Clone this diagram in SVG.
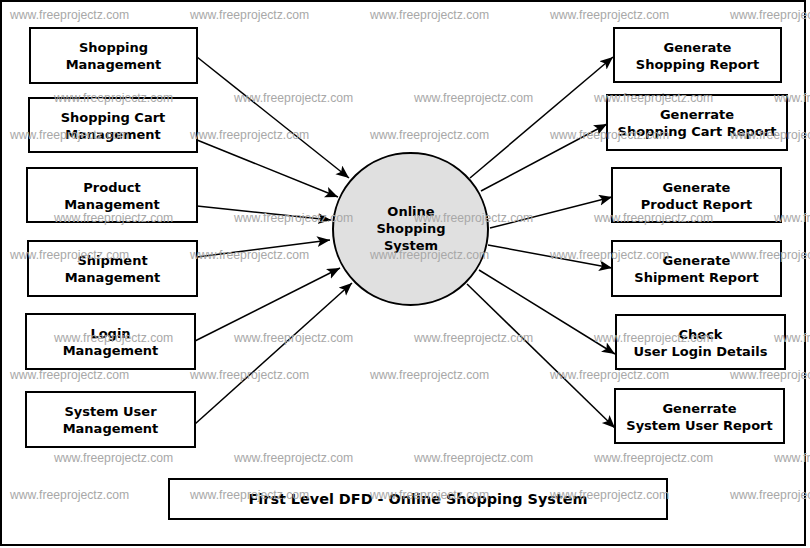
<svg xmlns="http://www.w3.org/2000/svg" width="810" height="548" viewBox="0 0 810 548">
<style>
.box{fill:#fff;stroke:#000;stroke-width:2}
.lbl{font-family:"DejaVu Sans",sans-serif;font-weight:bold;font-size:13px;fill:#000;text-anchor:middle}
.ttl{font-size:14.4px}
.wm{font-family:"Liberation Sans",Arial,sans-serif;font-size:12.2px;fill:#a8a8a8}
.con{stroke:#000;stroke-width:1.5;fill:none;marker-end:url(#arr)}
</style>
<defs>
<marker id="arr" markerUnits="userSpaceOnUse" markerWidth="14" markerHeight="12" refX="13" refY="5.5" orient="auto">
<path d="M0,0 L13,5.5 L0,11 L3,5.5 z" fill="#000"/>
</marker>
</defs>
<rect x="0" y="0" width="810" height="548" fill="#fff"/>
<rect x="1" y="1" width="804" height="544" fill="none" stroke="#000" stroke-width="2"/>

<g id="connectors">
<line class="con" x1="197" y1="57" x2="349" y2="178"/>
<line class="con" x1="197" y1="140" x2="338" y2="197"/>
<line class="con" x1="197" y1="206" x2="331" y2="220"/>
<line class="con" x1="197" y1="257" x2="330" y2="240"/>
<line class="con" x1="195" y1="341" x2="340" y2="268"/>
<line class="con" x1="195" y1="424" x2="352" y2="283"/>
<line class="con" x1="470" y1="178" x2="613" y2="57"/>
<line class="con" x1="481" y1="191" x2="607" y2="124"/>
<line class="con" x1="490" y1="228" x2="612" y2="197"/>
<line class="con" x1="488" y1="245" x2="612" y2="268"/>
<line class="con" x1="479" y1="270" x2="615" y2="354"/>
<line class="con" x1="467" y1="284" x2="615" y2="428"/>
</g>

<g id="center">
<ellipse cx="410.5" cy="229" rx="77.5" ry="76" fill="#e0e0e0" stroke="#000" stroke-width="2"/>
<text class="lbl" x="411" y="216">Online</text>
<text class="lbl" x="411" y="233">Shopping</text>
<text class="lbl" x="411" y="250">System</text>
</g>

<g id="shopping-management">
<rect class="box" x="30" y="28" width="167" height="55"/>
<text class="lbl" x="113.5" y="52">Shopping</text>
<text class="lbl" x="113.5" y="69">Management</text>
</g>
<g id="shopping-cart-management">
<rect class="box" x="29" y="98" width="168" height="54"/>
<text class="lbl" x="113" y="121.5">Shopping Cart</text>
<text class="lbl" x="113" y="138.5">Management</text>
</g>
<g id="product-management">
<rect class="box" x="27" y="168" width="170" height="54"/>
<text class="lbl" x="112" y="191.5">Product</text>
<text class="lbl" x="112" y="208.5">Management</text>
</g>
<g id="shipment-management">
<rect class="box" x="28" y="241" width="169" height="55"/>
<text class="lbl" x="112.5" y="265">Shipment</text>
<text class="lbl" x="112.5" y="282">Management</text>
</g>
<g id="login-management">
<rect class="box" x="26" y="314" width="169" height="55"/>
<text class="lbl" x="110.5" y="338">Login</text>
<text class="lbl" x="110.5" y="355">Management</text>
</g>
<g id="system-user-management">
<rect class="box" x="26" y="392" width="169" height="55"/>
<text class="lbl" x="110.5" y="416">System User</text>
<text class="lbl" x="110.5" y="433">Management</text>
</g>

<g id="shopping-report">
<rect class="box" x="614" y="28" width="167" height="54"/>
<text class="lbl" x="697.5" y="51.5">Generate</text>
<text class="lbl" x="697.5" y="68.5">Shopping Report</text>
</g>
<g id="shopping-cart-report">
<rect class="box" x="607" y="95" width="180" height="55"/>
<text class="lbl" x="697" y="119">Generrate</text>
<text class="lbl" x="697" y="136">Shopping Cart Report</text>
</g>
<g id="product-report">
<rect class="box" x="612" y="168" width="169" height="54"/>
<text class="lbl" x="696.5" y="191.5">Generate</text>
<text class="lbl" x="696.5" y="208.5">Product Report</text>
</g>
<g id="shipment-report">
<rect class="box" x="612" y="241" width="169" height="55"/>
<text class="lbl" x="696.5" y="265">Generate</text>
<text class="lbl" x="696.5" y="282">Shipment Report</text>
</g>
<g id="user-login-details">
<rect class="box" x="616" y="315" width="169" height="54"/>
<text class="lbl" x="700.5" y="338.5">Check</text>
<text class="lbl" x="700.5" y="355.5">User Login Details</text>
</g>
<g id="system-user-report">
<rect class="box" x="615" y="389" width="169" height="54"/>
<text class="lbl" x="699.5" y="412.5">Generrate</text>
<text class="lbl" x="699.5" y="429.5">System User Report</text>
</g>

<g id="title">
<rect class="box" x="169" y="479" width="498" height="40"/>
<text class="lbl ttl" x="418" y="504">First Level DFD - Online Shopping System</text>
</g>

<g id="watermarks">
<text class="wm" x="10" y="19">www.freeprojectz.com</text>
<text class="wm" x="190" y="19">www.freeprojectz.com</text>
<text class="wm" x="370" y="19">www.freeprojectz.com</text>
<text class="wm" x="550" y="19">www.freeprojectz.com</text>
<text class="wm" x="730" y="19">www.freeprojectz.com</text>
<text class="wm" x="54" y="102">www.freeprojectz.com</text>
<text class="wm" x="234" y="102">www.freeprojectz.com</text>
<text class="wm" x="414" y="102">www.freeprojectz.com</text>
<text class="wm" x="594" y="102">www.freeprojectz.com</text>
<text class="wm" x="774" y="102">www.freeprojectz.com</text>
<text class="wm" x="10" y="139">www.freeprojectz.com</text>
<text class="wm" x="190" y="139">www.freeprojectz.com</text>
<text class="wm" x="370" y="139">www.freeprojectz.com</text>
<text class="wm" x="550" y="139">www.freeprojectz.com</text>
<text class="wm" x="730" y="139">www.freeprojectz.com</text>
<text class="wm" x="54" y="222">www.freeprojectz.com</text>
<text class="wm" x="234" y="222">www.freeprojectz.com</text>
<text class="wm" x="414" y="222">www.freeprojectz.com</text>
<text class="wm" x="594" y="222">www.freeprojectz.com</text>
<text class="wm" x="774" y="222">www.freeprojectz.com</text>
<text class="wm" x="10" y="259">www.freeprojectz.com</text>
<text class="wm" x="190" y="259">www.freeprojectz.com</text>
<text class="wm" x="370" y="259">www.freeprojectz.com</text>
<text class="wm" x="550" y="259">www.freeprojectz.com</text>
<text class="wm" x="730" y="259">www.freeprojectz.com</text>
<text class="wm" x="54" y="342">www.freeprojectz.com</text>
<text class="wm" x="234" y="342">www.freeprojectz.com</text>
<text class="wm" x="414" y="342">www.freeprojectz.com</text>
<text class="wm" x="594" y="342">www.freeprojectz.com</text>
<text class="wm" x="774" y="342">www.freeprojectz.com</text>
<text class="wm" x="10" y="379">www.freeprojectz.com</text>
<text class="wm" x="190" y="379">www.freeprojectz.com</text>
<text class="wm" x="370" y="379">www.freeprojectz.com</text>
<text class="wm" x="550" y="379">www.freeprojectz.com</text>
<text class="wm" x="730" y="379">www.freeprojectz.com</text>
<text class="wm" x="54" y="462">www.freeprojectz.com</text>
<text class="wm" x="234" y="462">www.freeprojectz.com</text>
<text class="wm" x="414" y="462">www.freeprojectz.com</text>
<text class="wm" x="594" y="462">www.freeprojectz.com</text>
<text class="wm" x="774" y="462">www.freeprojectz.com</text>
<text class="wm" x="10" y="499">www.freeprojectz.com</text>
<text class="wm" x="190" y="499">www.freeprojectz.com</text>
<text class="wm" x="370" y="499">www.freeprojectz.com</text>
<text class="wm" x="550" y="499">www.freeprojectz.com</text>
<text class="wm" x="730" y="499">www.freeprojectz.com</text>
</g>
</svg>
